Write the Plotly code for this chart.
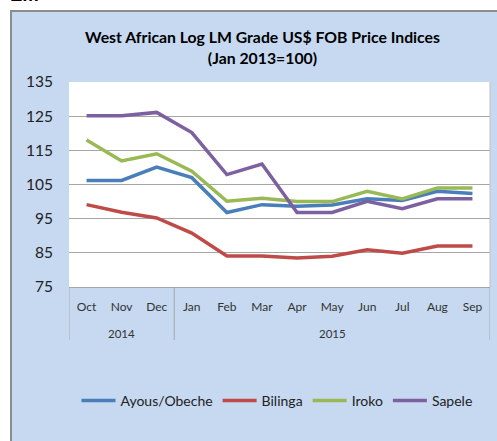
import plotly.graph_objects as go

months = ["Oct", "Nov", "Dec", "Jan", "Feb", "Mar", "Apr", "May", "Jun", "Jul", "Aug", "Sep"]
years = ["2014", "2015"]
year_spans = [(0, 2), (3, 11)]

ayous = [106.2, 106.2, 110.1, 107.0, 96.8, 99.1, 98.6, 99.0, 100.8, 100.3, 103.0, 102.4]
bilinga = [99.1, 96.9, 95.2, 90.8, 84.1, 84.1, 83.5, 84.0, 85.9, 84.9, 87.0, 87.0]
iroko = [118.0, 111.9, 114.0, 108.9, 100.1, 101.0, 100.0, 100.0, 103.0, 100.8, 104.0, 104.0]
sapele = [125.1, 125.1, 126.1, 120.2, 107.9, 111.0, 96.8, 96.8, 100.1, 97.9, 100.8, 100.8]

series = [("Ayous/Obeche", ayous, "#4A7EBB"), ("Bilinga", bilinga, "#BE4B48"),
          ("Iroko", iroko, "#98B954"), ("Sapele", sapele, "#7D60A0")]

W, H = 497, 441
L, R, T, B = 69, 490, 82, 287
pw, ph = R - L, B - T

def px_x(px):
    return (px - L) / pw

def px_y(py):
    return (B - py) / ph

fig = go.Figure()
xs = list(range(len(months)))
for name, vals, col in series:
    fig.add_trace(go.Scatter(x=xs, y=vals, mode="lines", name=name,
                             line=dict(color=col, width=3.5)))

bg = "#C6D9F1"
grid = "#A6A6A6"
shapes = [
    dict(type="rect", xref="paper", yref="paper", x0=px_x(11), x1=px_x(510), y0=px_y(11), y1=px_y(460),
         fillcolor=bg, line=dict(color="#8C8C8C", width=2), layer="below"),
    dict(type="rect", xref="paper", yref="paper", x0=0, x1=1, y0=0, y1=1,
         fillcolor="white", line=dict(width=0), layer="below"),
    dict(type="line", xref="paper", yref="paper", x0=1, x1=1, y0=0, y1=1,
         line=dict(color="#BFBFBF", width=1)),
]
for xv in [-0.5, 2.5, 11.5]:
    shapes.append(dict(type="line", xref="x", yref="paper", x0=xv, x1=xv, y0=0, y1=px_y(340),
                       line=dict(color=grid, width=1)))

annotations = [
    dict(text="<b>West African Log LM Grade US$ FOB Price Indices</b><br><b>(Jan 2013=100)</b>",
         xref="paper", yref="paper", x=px_x(262), y=px_y(47), xanchor="center", yanchor="middle",
         showarrow=False, font=dict(family="Lato, Open Sans, sans-serif", size=15.8, color="#000000")),
    dict(text="<b>LM</b>", xref="paper", yref="paper", x=px_x(8), y=px_y(7.5),
         xanchor="left", yanchor="bottom", showarrow=False,
         font=dict(family="Liberation Sans, Arial, sans-serif", size=20, color="#000000")),
]
for yr, (a, b) in zip(years, year_spans):
    annotations.append(dict(text=yr, xref="x", yref="paper", x=(a + b) / 2, y=px_y(333),
                            xanchor="center", yanchor="middle", showarrow=False,
                            font=dict(family="Lato, Open Sans, sans-serif", size=11.5, color="#333333")))

fig.update_layout(
    width=W, height=H,
    margin=dict(l=L, r=W - R, t=T, b=H - B, pad=0),
    paper_bgcolor="white", plot_bgcolor="white",
    font=dict(family="Lato, Open Sans, sans-serif", color="#222222"),
    shapes=shapes, annotations=annotations,
    showlegend=True,
    legend=dict(orientation="h", x=px_x(277), y=px_y(401), xanchor="center", yanchor="middle",
                bgcolor="rgba(0,0,0,0)", font=dict(size=14, color="#222222"),
                itemwidth=34, tracegroupgap=0),
    xaxis=dict(range=[-0.5, 11.5], tickmode="array", tickvals=xs, ticktext=months,
               showgrid=False, zeroline=False, showline=True, linecolor=grid, linewidth=1,
               ticks="", tickfont=dict(size=12, color="#333333"), ticklabelstandoff=9, fixedrange=True),
    yaxis=dict(range=[75, 135], tickmode="array", tickvals=[75, 85, 95, 105, 115, 125, 135],
               showgrid=True, gridcolor=grid, gridwidth=1, zeroline=False, showline=False,
               ticks="", tickfont=dict(size=15.5, color="#222222"), ticklabelstandoff=15, fixedrange=True),
)

fig.write_html("out.html", config={"displayModeBar": False},
               post_script="document.body.style.margin='0';")
